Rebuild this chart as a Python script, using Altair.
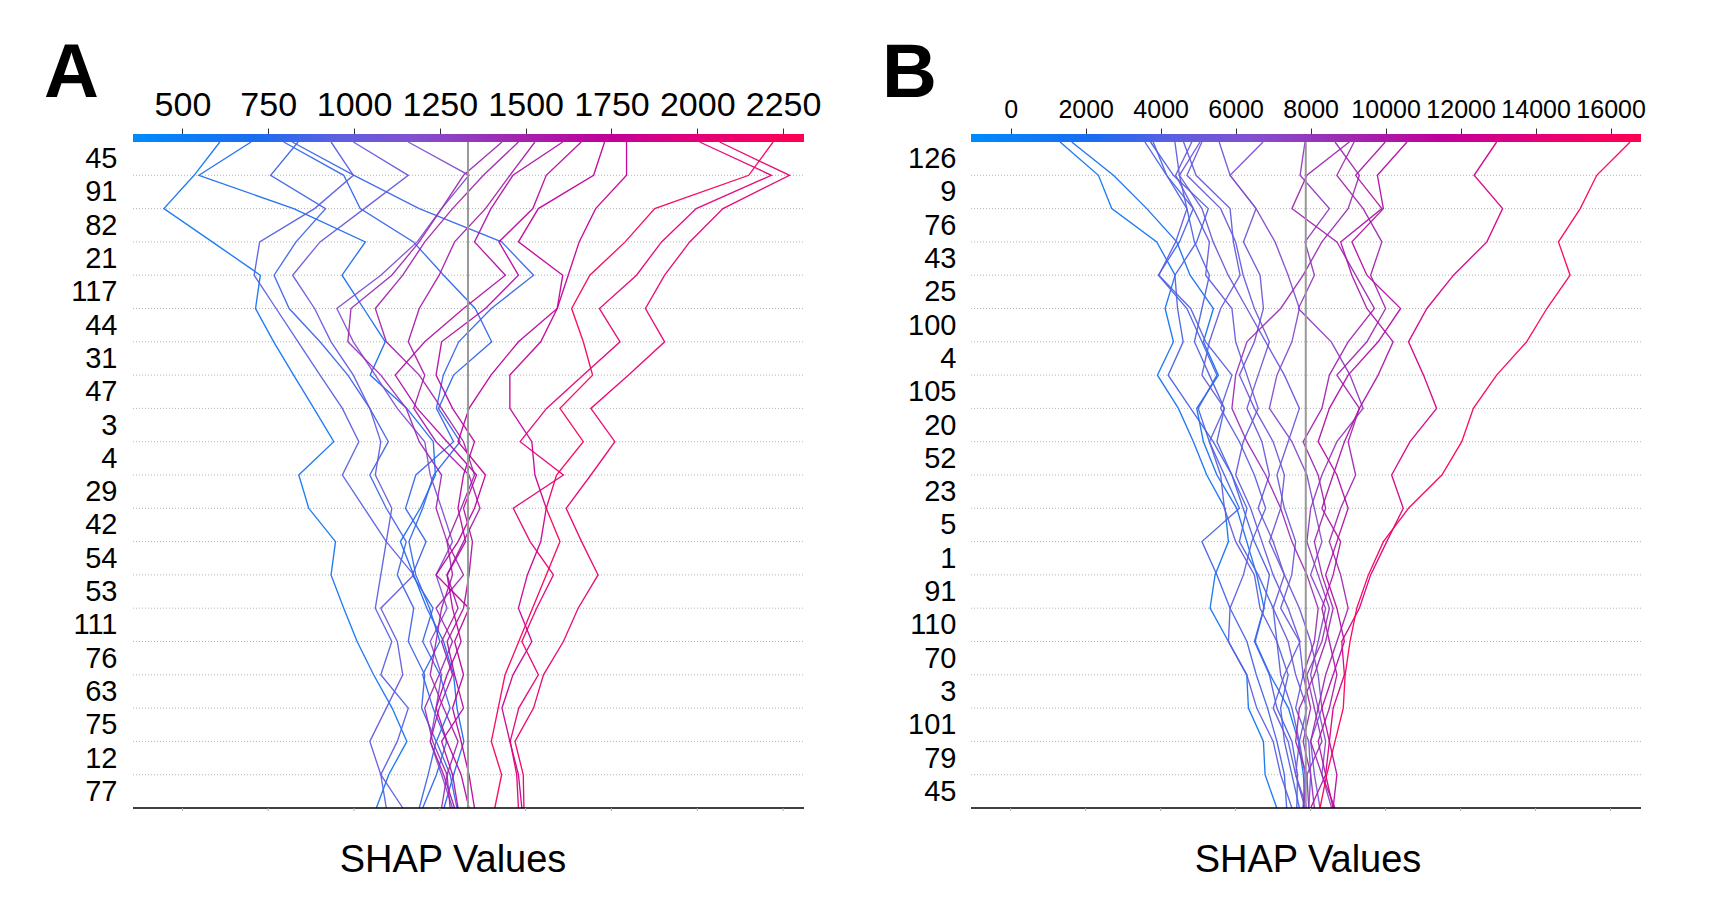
import json
import altair as alt
import pandas as pd
import numpy as np

FONT = "Liberation Sans"
CMAP = ["#008bfb", "#1a6cf0", "#5c5fe2", "#8250d0", "#9d2cb2", "#bf009c", "#e60076", "#ff0051"]
CSTOPS = [0.0, 0.18, 0.3, 0.42, 0.55, 0.7, 0.85, 1.0]

# ---------------- Panel A ----------------
A_FEATURES = ["45", "91", "82", "21", "117", "44", "31", "47", "3", "4",
              "29", "42", "54", "53", "111", "76", "63", "75", "12", "77"]
A_TICKS = [500, 750, 1000, 1250, 1500, 1750, 2000, 2250]
A_DOMAIN = [356, 2311]
A_BASE = 1332
# each line: values at the 21 feature boundaries, from top (prediction) to bottom
A_LINES = [
    [609, 534, 446, 587, 727, 713, 766, 824, 883, 941, 839, 868, 946, 933, 970, 1009, 1057, 1111, 1154, 1101, 1065],
    [700, 548, 824, 1033, 965, 1028, 1091, 1047, 1154, 1231, 1237, 1193, 1135, 1174, 1212, 1261, 1290, 1300, 1320, 1290, 1262],
    [795, 970, 1018, 1173, 1261, 1353, 1401, 1290, 1246, 1309, 1232, 1200, 1160, 1180, 1220, 1250, 1200, 1230, 1270, 1240, 1200],
    [820, 1000, 1190, 1430, 1523, 1400, 1305, 1260, 1240, 1290, 1180, 1150, 1210, 1170, 1230, 1200, 1250, 1280, 1240, 1280, 1300],
    [837, 757, 917, 831, 767, 811, 901, 982, 1046, 1100, 1046, 1094, 1152, 1126, 1174, 1158, 1206, 1197, 1239, 1216, 1190],
    [933, 998, 885, 725, 709, 773, 837, 901, 966, 1014, 966, 1030, 1094, 1078, 1062, 1110, 1078, 1158, 1126, 1078, 1094],
    [998, 1158, 1030, 901, 821, 885, 933, 998, 1046, 1078, 1062, 1110, 1094, 1174, 1078, 1126, 1142, 1094, 1046, 1078, 1142],
    [1158, 1335, 1255, 1184, 1078, 950, 998, 1062, 1126, 1206, 1222, 1255, 1287, 1239, 1271, 1222, 1255, 1239, 1222, 1255, 1287],
    [1431, 1319, 1255, 1190, 1110, 991, 982, 1078, 1152, 1190, 1255, 1239, 1271, 1319, 1239, 1287, 1248, 1206, 1229, 1271, 1255],
    [1479, 1377, 1287, 1206, 1142, 1062, 1094, 1190, 1255, 1319, 1351, 1312, 1271, 1287, 1255, 1239, 1222, 1261, 1303, 1271, 1280],
    [1527, 1454, 1383, 1293, 1248, 1190, 1158, 1206, 1174, 1239, 1335, 1367, 1319, 1271, 1303, 1255, 1287, 1248, 1222, 1261, 1293],
    [1608, 1463, 1399, 1351, 1441, 1319, 1206, 1120, 1184, 1271, 1357, 1319, 1345, 1335, 1319, 1271, 1293, 1319, 1255, 1287, 1303],
    [1662, 1560, 1521, 1422, 1479, 1383, 1255, 1239, 1287, 1351, 1319, 1303, 1325, 1271, 1287, 1312, 1271, 1239, 1271, 1312, 1335],
    [1730, 1698, 1537, 1479, 1608, 1592, 1479, 1399, 1335, 1303, 1383, 1351, 1303, 1239, 1335, 1293, 1319, 1287, 1312, 1335, 1351],
    [1794, 1794, 1704, 1656, 1624, 1592, 1544, 1454, 1454, 1518, 1527, 1560, 1544, 1505, 1479, 1518, 1463, 1431, 1454, 1479, 1489],
    [2221, 2150, 1876, 1790, 1687, 1634, 1668, 1695, 1600, 1668, 1590, 1560, 1600, 1560, 1520, 1480, 1440, 1420, 1400, 1430, 1410],
    [2007, 2216, 1997, 1896, 1823, 1715, 1775, 1668, 1561, 1484, 1610, 1464, 1513, 1581, 1532, 1489, 1537, 1480, 1455, 1474, 1479],
    [2065, 2269, 2075, 1978, 1905, 1849, 1905, 1800, 1690, 1760, 1690, 1618, 1663, 1711, 1653, 1610, 1552, 1523, 1469, 1493, 1495],
]

# ---------------- Panel B ----------------
B_FEATURES = ["126", "9", "76", "43", "25", "100", "4", "105", "20", "52",
              "23", "5", "1", "91", "110", "70", "3", "101", "79", "45"]
B_TICKS = [0, 2000, 4000, 6000, 8000, 10000, 12000, 14000, 16000]
B_DOMAIN = [-1059, 16811]
B_BASE = 7870
B_LINES = [
    [1317, 2340, 2695, 3895, 4384, 4118, 4340, 3914, 4473, 4873, 5229, 5717, 5807, 5451, 5318, 5807, 6296, 6340, 6740, 6785, 7096],
    [1628, 2740, 3629, 4429, 4784, 5407, 5140, 5540, 4962, 5140, 5500, 6029, 6296, 6563, 6758, 6518, 6918, 7407, 7674, 7807, 7851],
    [3580, 4160, 4870, 4500, 3940, 4700, 5100, 5500, 5000, 5300, 5700, 6100, 5100, 5500, 5850, 6300, 6550, 6850, 7100, 7300, 7360],
    [3730, 4340, 5270, 4960, 4380, 4450, 4600, 4200, 4800, 5400, 5900, 6200, 6500, 6900, 6750, 6500, 6900, 7100, 7500, 7650, 7630],
    [3800, 4160, 4700, 4900, 5300, 5100, 4900, 5300, 5700, 5500, 5900, 6300, 6100, 6600, 7000, 7100, 7400, 7200, 7300, 7500, 7700],
    [4380, 4500, 4700, 4400, 3950, 4800, 5200, 5900, 5600, 6100, 6500, 6800, 6429, 6207, 5851, 5807, 6296, 6563, 7000, 7200, 7500],
    [4610, 4944, 5851, 5940, 6118, 5600, 5300, 5100, 5700, 5300, 5600, 5700, 6000, 6500, 6650, 7100, 7200, 7500, 7700, 7850, 7800],
    [4830, 4400, 4873, 5300, 5200, 5900, 6000, 6300, 6600, 6200, 6000, 6400, 6700, 7000, 7400, 7718, 7300, 7000, 7400, 7600, 7900],
    [5050, 4500, 5100, 5400, 5800, 6300, 6800, 7300, 7700, 7400, 7100, 7300, 7600, 7496, 7200, 7700, 7800, 7600, 7950, 8000, 7950],
    [5100, 4700, 5600, 6000, 6200, 6500, 6900, 6600, 6300, 6700, 6900, 6600, 7000, 7300, 7000, 7400, 7600, 7900, 7700, 7600, 7850],
    [5560, 5851, 6545, 6207, 6651, 6740, 6500, 6100, 6500, 7000, 7300, 7200, 6900, 7300, 7700, 8000, 8200, 8300, 8000, 8100, 8250],
    [6730, 5851, 6545, 7051, 7400, 7700, 7500, 7100, 6900, 7500, 7900, 8100, 8300, 8000, 8400, 8200, 8000, 8200, 8400, 8300, 8560],
    [7850, 7718, 8500, 7851, 8100, 7673, 8550, 9050, 9400, 8700, 8300, 8000, 7900, 8200, 8500, 8300, 7900, 8100, 8300, 7900, 7950],
    [8650, 9300, 9000, 8300, 7800, 7200, 6300, 6000, 5900, 6300, 6800, 7200, 7500, 7900, 8200, 8100, 7800, 8000, 7800, 8000, 8100],
    [9030, 7900, 7500, 8700, 9200, 9700, 9000, 8500, 8300, 7800, 8200, 8400, 8100, 8300, 8600, 8400, 8100, 7700, 7600, 7900, 7800],
    [9160, 8700, 9400, 9900, 9600, 10000, 9500, 8700, 9300, 9000, 9200, 8800, 8500, 8800, 9000, 8700, 8400, 8200, 8000, 8300, 8650],
    [9990, 9200, 9900, 8800, 9100, 9500, 10200, 9800, 9300, 8900, 8600, 8300, 8800, 8600, 8300, 8500, 8700, 8500, 8200, 8400, 8000],
    [10570, 9780, 9940, 9100, 9500, 10400, 9800, 9000, 8500, 8200, 8700, 9000, 8700, 8400, 8700, 8900, 8600, 8300, 8500, 8700, 8600],
    [12960, 12360, 13120, 12700, 11810, 11100, 10610, 11010, 11360, 10650, 10160, 10470, 10030, 9600, 9300, 8830, 8900, 8600, 8500, 8400, 8600],
    [16520, 15630, 15190, 14610, 14920, 14300, 13760, 12960, 12340, 12030, 11500, 10610, 9940, 9540, 9230, 9050, 8920, 8870, 8650, 8430, 8250],
]

H = 666
NLEV = 20


def panel(lines, features, ticks, domain, base, letter, tick_fs, lab_pad,
          letter_dx, title_x, width):
    rows = []
    for i, vals in enumerate(lines):
        for k, v in enumerate(vals):
            rows.append({"id": i, "level": NLEV - k, "value": v, "pred": vals[0]})
    df = pd.DataFrame(rows)

    d0, d1 = domain
    cdom = [d0 + s * (d1 - d0) for s in CSTOPS]
    xs = alt.Scale(domain=domain, nice=False, zero=False)
    ys = alt.Scale(domain=[0, NLEV], nice=False, zero=False)
    cs = alt.Scale(domain=cdom, range=CMAP, interpolate="rgb")

    label_expr = f"{json.dumps(features)}[{NLEV - 1} - floor(datum.value)]"

    xaxis = alt.Axis(orient="top", values=ticks, format="d", labelFontSize=tick_fs,
                     labelFont=FONT, labelColor="black", tickSize=6,
                     tickColor="#333", tickWidth=1, domain=False, grid=False,
                     offset=8, labelPadding=6, labelOverlap=False,
                     labelFlush=False, title=None)
    yaxis = alt.Axis(values=[i + 0.5 for i in range(NLEV)], labelExpr=label_expr,
                     labelFontSize=29, labelFont=FONT, labelColor="black",
                     ticks=False, domain=False, grid=False, labelPadding=lab_pad,
                     title=None)

    # colour bar segments spanning the x domain
    edges = np.linspace(d0, d1, 241)
    step = edges[1] - edges[0]
    cb = pd.DataFrame({"x0": edges[:-1],
                       "x1": np.minimum(edges[1:] + step * 0.6, d1),
                       "mid": (edges[:-1] + edges[1:]) / 2})

    grid_df = pd.DataFrame({"g": list(range(1, NLEV))})
    gridlines = alt.Chart(grid_df).mark_rule(
        color="#b5b5b5", strokeWidth=1, strokeDash=[1, 2]
    ).encode(y=alt.Y("g:Q", scale=ys, axis=yaxis), x=alt.value(0), x2=alt.value(width))

    line_layer = alt.Chart(df).mark_line(strokeWidth=1.35, opacity=0.95).encode(
        x=alt.X("value:Q", scale=xs, axis=xaxis),
        y=alt.Y("level:Q", scale=ys, axis=yaxis),
        color=alt.Color("pred:Q", scale=cs, legend=None),
        detail="id:N",
        order=alt.Order("level:Q"),
    )

    colorbar = alt.Chart(cb).mark_rect(strokeWidth=0).encode(
        x=alt.X("x0:Q", scale=xs, axis=xaxis), x2="x1:Q",
        y=alt.value(-8), y2=alt.value(0),
        color=alt.Color("mid:Q", scale=cs, legend=None),
    )

    base_rule = alt.Chart(pd.DataFrame({"b": [base]})).mark_rule(
        color="#999999", strokeWidth=2
    ).encode(x=alt.X("b:Q", scale=xs, axis=xaxis), y=alt.value(0), y2=alt.value(H))

    one = pd.DataFrame({"k": [0]})
    bottom = alt.Chart(one).mark_rule(color="black", strokeWidth=1.5).encode(
        x=alt.value(0), x2=alt.value(width), y=alt.value(H))

    tk = pd.DataFrame({"t": ticks})
    bticks = alt.Chart(tk).mark_rule(color="#aaaaaa", strokeWidth=1).encode(
        x=alt.X("t:Q", scale=xs, axis=xaxis), y=alt.value(H), y2=alt.value(H + 3))

    letter_txt = alt.Chart(one).mark_text(
        text=letter, fontSize=76, fontWeight="bold", font=FONT,
        align="left", baseline="alphabetic", color="black"
    ).encode(x=alt.value(letter_dx), y=alt.value(-45))

    title_txt = alt.Chart(one).mark_text(
        text="SHAP Values", fontSize=38, font=FONT, align="center",
        baseline="alphabetic", color="black"
    ).encode(x=alt.value(title_x), y=alt.value(730))

    return alt.layer(gridlines, line_layer, base_rule, colorbar, bottom, bticks,
                     letter_txt, title_txt).properties(width=width, height=H)


chart_a = panel(A_LINES, A_FEATURES, A_TICKS, A_DOMAIN, A_BASE, "A",
                34, 16, -89, 320, 671)
chart_b = panel(B_LINES, B_FEATURES, B_TICKS, B_DOMAIN, B_BASE, "B",
                25, 15, -89, 337, 670)

chart = alt.hconcat(chart_a, chart_b, spacing=61).resolve_scale(
    x="independent", y="independent", color="independent"
).properties(
    padding={"left": 36, "top": 28, "right": 5, "bottom": 5}
).configure_view(stroke=None)

chart.save("out.html", embed_options={"renderer": "svg", "actions": False})
